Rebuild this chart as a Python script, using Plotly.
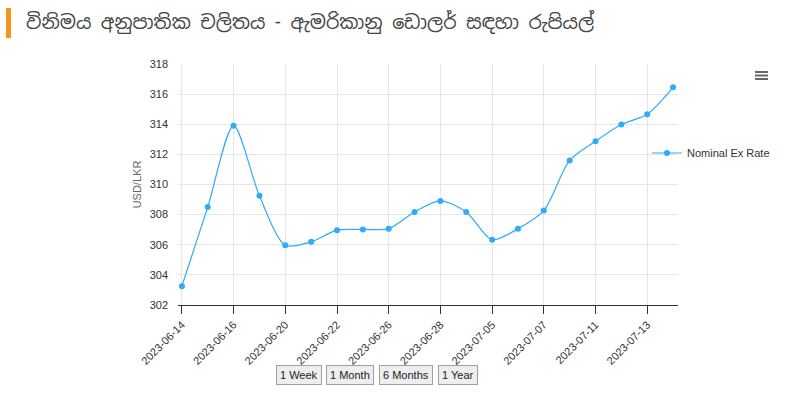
import plotly.graph_objects as go

# 데이터
dates = ["2023-06-14", "2023-06-15", "2023-06-16", "2023-06-19", "2023-06-20",
         "2023-06-21", "2023-06-22", "2023-06-23", "2023-06-26", "2023-06-27",
         "2023-06-28", "2023-06-29", "2023-07-05", "2023-07-06", "2023-07-07",
         "2023-07-10", "2023-07-11", "2023-07-12", "2023-07-13", "2023-07-14"]
rates = [303.25, 308.5, 313.9, 309.25, 305.97,
         306.2, 306.97, 307.02, 307.07, 308.18,
         308.91, 308.18, 306.33, 307.07, 308.27,
         311.6, 312.87, 313.98, 314.67, 316.45]
tick_dates = dates[::2]
button_labels = ["1 Week", "1 Month", "6 Months", "1 Year"]

title_text = "විනිමය අනුපාතික චලිතය - ඇමරිකානු ඩොලර් සඳහා රුපියල්"
blue = "#2fabf7"

# 픽셀 -> paper 좌표 변환 (플롯 영역 178..678 x 64..305)
L, R, T, B = 178, 678, 64, 305
def px(x):
    return (x - L) / (R - L)
def py(y):
    return (B - y) / (B - T)

fig = go.Figure()

fig.add_trace(go.Scatter(
    x=list(range(len(dates))),
    y=rates,
    mode="lines+markers",
    name="Nominal Ex Rate",
    line=dict(color=blue, width=1.2, shape="spline", smoothing=0.8),
    marker=dict(color=blue, size=6),
    customdata=dates,
    hovertemplate="%{customdata}<br>%{y}<extra></extra>",
))

fig.update_layout(
    width=800, height=407,
    margin=dict(l=L, r=800 - R, t=T, b=407 - B, autoexpand=False),
    paper_bgcolor="white",
    plot_bgcolor="white",
    font=dict(family="Liberation Sans, Arial, sans-serif", size=11, color="#333"),
    showlegend=True,
    legend=dict(x=px(647), y=py(153), xanchor="left", yanchor="middle",
                font=dict(size=11, color="#333"), bgcolor="rgba(0,0,0,0)",
                itemwidth=30),
    xaxis=dict(
        range=[-0.15, 19.19],
        tickmode="array",
        tickvals=list(range(0, len(dates), 2)),
        ticktext=tick_dates,
        tickangle=-45,
        showgrid=True, gridcolor="#e6e6e6",
        showline=True, linecolor="#333", linewidth=1,
        ticks="outside", ticklen=8, tickcolor="#333",
        zeroline=False,
        tickfont=dict(size=11, color="#333"),
    ),
    yaxis=dict(
        range=[302, 318],
        dtick=2,
        showgrid=True, gridcolor="#e6e6e6",
        zeroline=False,
        ticks="",
        ticklabelstandoff=9,
        tickfont=dict(size=11, color="#333"),
        title=dict(text="USD/LKR", font=dict(size=11, color="#666"), standoff=5),
    ),
)

# 제목과 주황색 막대
fig.add_shape(type="rect", xref="paper", yref="paper",
              x0=px(6), x1=px(11), y0=py(8), y1=py(38),
              fillcolor="#f7941d", line=dict(width=0))
fig.add_annotation(text=title_text, xref="paper", yref="paper",
                   x=px(24), y=py(23),
                   xanchor="left", yanchor="middle", showarrow=False,
                   font=dict(size=19, color="#444",
                             family="Noto Sans Sinhala, Iskoola Pota, Noto Sans, sans-serif"))

# 메뉴 아이콘
for yy in [72, 75.5, 79]:
    fig.add_shape(type="line", xref="paper", yref="paper",
                  x0=px(755), x1=px(768), y0=py(yy), y1=py(yy),
                  line=dict(color="#666", width=2))

# 기간 버튼
for lbl, cx in zip(button_labels, [298.5, 350, 406, 457.5]):
    fig.add_annotation(text=lbl, xref="paper", yref="paper",
                       x=px(cx), y=py(375), xanchor="center", yanchor="middle",
                       showarrow=False, font=dict(size=11, color="#222"),
                       bgcolor="#eeeeee", bordercolor="#a0a0a0", borderwidth=1,
                       borderpad=3)

fig.write_html("out.html", config={"displayModeBar": False},
               post_script="document.body.style.margin='0';")
